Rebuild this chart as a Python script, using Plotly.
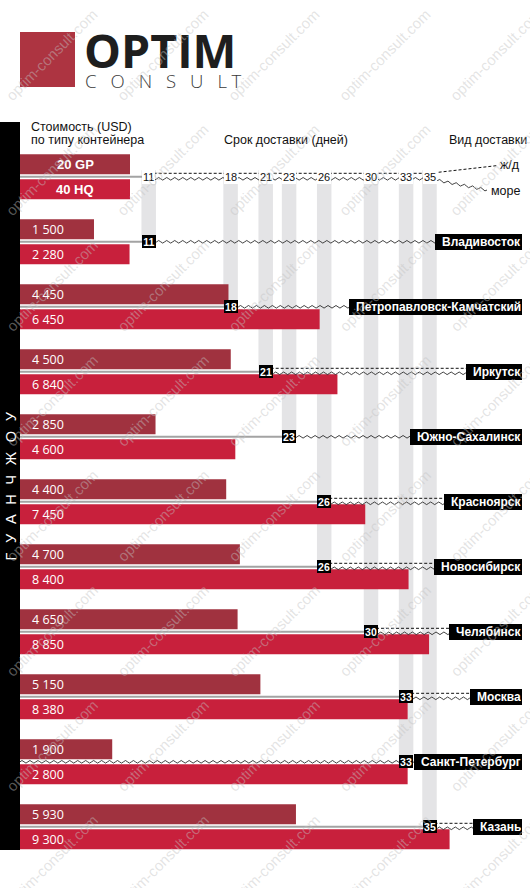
import plotly.graph_objects as go

# ------------------------------------------------------------------ data
cities = ["Владивосток", "Петропавловск-Камчатский", "Иркутск", "Южно-Сахалинск",
          "Красноярск", "Новосибирск", "Челябинск", "Москва", "Санкт-Петербург", "Казань"]
gp20_usd = [1500, 4450, 4500, 2850, 4400, 4700, 4650, 5150, 1900, 5930]
hq40_usd = [2280, 6450, 6840, 4600, 7450, 8400, 8850, 8380, 2800, 9300]
# bar lengths as drawn in the reference (the St. Petersburg 40 HQ bar is drawn
# as long as Moscow's although it is labelled 2 800)
hq40_bar_usd = [2280, 6450, 6840, 4600, 7450, 8400, 8850, 8380, 8380, 9300]
days = [11, 18, 21, 23, 26, 26, 30, 33, 33, 35]
rail = [False, False, True, False, True, True, True, True, False, True]
sea_from_origin = [False, False, False, False, False, False, False, False, True, False]
origin_city = "ГУАНЧЖОУ"
container_types = ["20 GP", "40 HQ"]
mode_labels = ["ж/д", "море"]

# ------------------------------------------------------------------ geometry / style
W, H = 530, 888
ROW0_PX, ROW_PX = 176.8, 65.0      # header row centre, row pitch
DAY0_PX, DAY_PX = 20.0, 11.7       # day-axis origin and px per day
USD0_PX, USD_PX = 25.6, 0.04559    # usd-axis origin and px per USD
BAR_LEFT_PX = 20.0
BAR_H_PX, BAR_OFF_PX = 20.0, 12.5
BAND_W_PX = 14.5
WAVE_HALF_PX, WAVE_CTRL_PX = 4.0, 2.6
END_PX = 505.0

C_GP = "#A0323F"
C_HQ = "#C8203C"
C_LOGO = "#AD3441"
C_BAND = "#E4E4E6"
C_LINE = "#A3A3A3"
C_WAVE = "#2A2A2A"
SANS = "Liberation Sans, Arial, sans-serif"
OPEN = "Open Sans, sans-serif"


def r(px):
    return px / ROW_PX


def dd(px):
    return px / DAY_PX


def py(px):  # pixel y -> paper y
    return 1 - px / H


def pxx(px):  # pixel x -> paper x
    return px / W


rows = list(range(1, len(cities) + 1))
bar_base = (BAR_LEFT_PX - USD0_PX) / USD_PX
end_day = (END_PX - DAY0_PX) / DAY_PX

fig = go.Figure()

fig.add_trace(go.Bar(
    y=[k - r(BAR_OFF_PX) for k in rows], x=[v - bar_base for v in gp20_usd], base=bar_base,
    orientation="h", width=r(BAR_H_PX), marker=dict(color=C_GP, line=dict(width=0)),
    hoverinfo="skip", xaxis="x", yaxis="y"))
fig.add_trace(go.Bar(
    y=[k + r(BAR_OFF_PX) for k in rows], x=[v - bar_base for v in hq40_bar_usd], base=bar_base,
    orientation="h", width=r(BAR_H_PX), marker=dict(color=C_HQ, line=dict(width=0)),
    hoverinfo="skip", xaxis="x", yaxis="y"))

shapes = []
ann = []


def wave_path(x0, y0, x1, y1):
    span_px = (x1 - x0) * DAY_PX
    n = max(2, int(round(span_px / WAVE_HALF_PX)))
    xs = [x0 + (x1 - x0) * i / n for i in range(n + 1)]
    ys = [y0 + (y1 - y0) * i / n for i in range(n + 1)]
    a = r(WAVE_CTRL_PX)
    cx = (xs[0] + xs[1]) / 2
    cy = (ys[0] + ys[1]) / 2 - a
    p = f"M {xs[0]:.4f},{ys[0]:.4f} Q {cx:.4f},{cy:.4f} {xs[1]:.4f},{ys[1]:.4f}"
    for i in range(2, n + 1):
        p += f" T {xs[i]:.4f},{ys[i]:.4f}"
    return p


def add_wave(x0, y0, x1, y1):
    shapes.append(dict(type="path", xref="x2", yref="y", path=wave_path(x0, y0, x1, y1),
                       line=dict(color=C_WAVE, width=0.9), layer="above"))


def add_dash(pts):
    p = "M " + " L ".join(f"{x:.4f},{y:.4f}" for x, y in pts)
    shapes.append(dict(type="path", xref="x2", yref="y", path=p,
                       line=dict(color="#111111", width=1, dash="3px,2px"), layer="above"))


# logo square
shapes.append(dict(type="rect", xref="paper", yref="paper", x0=pxx(20), x1=pxx(75),
                   y0=py(87), y1=py(32), fillcolor=C_LOGO, line=dict(width=0), layer="below"))
# black origin strip
shapes.append(dict(type="rect", xref="paper", yref="paper", x0=0, x1=pxx(20),
                   y0=py(850), y1=py(122), fillcolor="black", line=dict(width=0), layer="below"))

# delivery-day bands
uniq_days = sorted(set(days))
for d in uniq_days:
    last = max(k for k, dk in zip(rows, days) if dk == d)
    shapes.append(dict(type="rect", xref="x2", yref="y", x0=d - dd(BAND_W_PX / 2),
                       x1=d + dd(BAND_W_PX / 2), y0=-r(6.5), y1=last,
                       fillcolor=C_BAND, line=dict(width=0), layer="below"))

# header (legend) row
d_min, d_max = min(uniq_days), max(uniq_days)
shapes.append(dict(type="line", xref="x2", yref="y", x0=0, x1=d_min, y0=0, y1=0,
                   line=dict(color=C_LINE, width=2), layer="above"))
for i, (name, col) in enumerate(zip(container_types, [C_GP, C_HQ])):
    sgn = -1 if i == 0 else 1
    shapes.append(dict(type="rect", xref="paper", yref="y", x0=pxx(20), x1=pxx(130),
                       y0=sgn * r(BAR_OFF_PX - BAR_H_PX / 2), y1=sgn * r(BAR_OFF_PX + BAR_H_PX / 2),
                       fillcolor=col, line=dict(width=0), layer="above"))
    ann.append(dict(xref="paper", yref="y", x=pxx(75), y=sgn * r(BAR_OFF_PX), text=name,
                    showarrow=False, xanchor="center", yanchor="middle",
                    font=dict(family=SANS, size=13, color="white", weight="bold")))

rail_end = ((498 - DAY0_PX) / DAY_PX, r(165.5 - ROW0_PX))
sea_end = ((487 - DAY0_PX) / DAY_PX, r(190 - ROW0_PX))
add_dash([(d_min, -r(3.5)), (d_max, -r(3.5)), rail_end])
add_wave(d_min, r(2), d_max, r(2))
add_wave(d_max, r(2), sea_end[0], sea_end[1])
for d in uniq_days:
    ann.append(dict(xref="x2", yref="y", x=d, y=0, text=str(d), showarrow=False,
                    xanchor="center", yanchor="middle", bgcolor="white", borderpad=1, borderwidth=0,
                    font=dict(family=SANS, size=11, color="#111111")))
ann.append(dict(xref="paper", yref="paper", x=pxx(498), y=py(165.5), text=mode_labels[0],
                showarrow=False, xanchor="left", yanchor="middle",
                font=dict(family=SANS, size=12.5, color="#111111")))
ann.append(dict(xref="paper", yref="paper", x=pxx(489), y=py(191), text=mode_labels[1],
                showarrow=False, xanchor="left", yanchor="middle",
                font=dict(family=SANS, size=12.5, color="#111111")))

# route rows
for k, city, d, is_rail, lead_wave, gp, hq in zip(rows, cities, days, rail, sea_from_origin,
                                                   gp20_usd, hq40_usd):
    if lead_wave:
        add_wave(0, k, d, k)
    else:
        shapes.append(dict(type="line", xref="x2", yref="y", x0=0, x1=d, y0=k, y1=k,
                           line=dict(color=C_LINE, width=2), layer="above"))
    if is_rail:
        add_dash([(d, k - r(3.5)), (end_day, k - r(3.5))])
        add_wave(d, k + r(1.5), end_day, k + r(1.5))
    else:
        add_wave(d, k, end_day, k)
    # day marker
    ann.append(dict(xref="x2", yref="y", x=d, y=k, text=str(d), showarrow=False,
                    xanchor="center", yanchor="middle", bgcolor="black", width=14, height=13,
                    borderpad=0, borderwidth=0,
                    font=dict(family=SANS, size=10.5, color="white", weight="bold")))
    # city label
    ann.append(dict(xref="paper", yref="y", x=pxx(522), y=k, text="\u2002" + city,
                    showarrow=False, xanchor="right", yanchor="middle", bgcolor="black",
                    height=14, borderpad=1, borderwidth=0,
                    font=dict(family=SANS, size=12, color="white", weight="bold")))
    # cost labels
    for v, off in ((gp, -r(BAR_OFF_PX)), (hq, r(BAR_OFF_PX))):
        ann.append(dict(xref="paper", yref="y", x=pxx(30), y=k + off,
                        text=f"{v:,}".replace(",", " "), showarrow=False,
                        xanchor="left", yanchor="middle",
                        font=dict(family=OPEN, size=12.5, color="white")))

# titles
ann += [
    dict(xref="paper", yref="paper", x=pxx(29), y=py(127), text="Стоимость (USD)",
         showarrow=False, xanchor="left", yanchor="middle",
         font=dict(family=SANS, size=12.5, color="#111111")),
    dict(xref="paper", yref="paper", x=pxx(29), y=py(140.5), text="по типу контейнера",
         showarrow=False, xanchor="left", yanchor="middle",
         font=dict(family=SANS, size=12.5, color="#111111")),
    dict(xref="paper", yref="paper", x=pxx(285.7), y=py(139.5), text="Срок доставки (дней)",
         showarrow=False, xanchor="center", yanchor="middle",
         font=dict(family=SANS, size=12.5, color="#111111")),
    dict(xref="paper", yref="paper", x=pxx(529), y=py(139.5), text="Вид доставки",
         showarrow=False, xanchor="right", yanchor="middle",
         font=dict(family=SANS, size=12.5, color="#111111")),
    dict(xref="paper", yref="paper", x=pxx(10.5), y=py(486),
         text="\u2002\u2006".join(origin_city), textangle=-90, showarrow=False,
         xanchor="center", yanchor="middle",
         font=dict(family=SANS, size=14.5, color="white")),
    dict(xref="paper", yref="paper", x=pxx(82), y=py(50), text="OPTIM", showarrow=False,
         xanchor="left", yanchor="middle",
         font=dict(family=OPEN, size=46.5, color="#1E1E1E", weight="bold")),
    dict(xref="paper", yref="paper", x=pxx(83), y=py(80.7),
         text="C\u2002\u2005O\u2002\u2005N\u2002\u2005S\u2002\u2005U\u2002\u2005L\u2005T",
         showarrow=False, xanchor="left", yanchor="middle",
         font=dict(family=OPEN, size=18.6, color="#3A3A3A", weight=300)),
]

# watermark
for i in range(8):
    for j in range(5):
        ann.append(dict(xref="paper", yref="paper", x=pxx(52 + 111 * j), y=py(55 + 115 * i),
                        text="optim-consult.com", textangle=-45, showarrow=False,
                        xanchor="center", yanchor="middle",
                        font=dict(family=SANS, size=15, color="rgba(195,195,195,0.45)")))

fig.update_layout(
    width=W, height=H, margin=dict(l=0, r=0, t=0, b=0),
    paper_bgcolor="white", plot_bgcolor="white",
    showlegend=False, hovermode=False, barmode="overlay",
    xaxis=dict(domain=[0, 1], range=[-USD0_PX / USD_PX, (W - USD0_PX) / USD_PX],
               visible=False, fixedrange=True),
    xaxis2=dict(domain=[0, 1], range=[-DAY0_PX / DAY_PX, (W - DAY0_PX) / DAY_PX],
                overlaying="x", visible=False, fixedrange=True),
    yaxis=dict(domain=[0, 1], range=[(H - ROW0_PX) / ROW_PX, -ROW0_PX / ROW_PX],
               visible=False, fixedrange=True),
    shapes=shapes, annotations=ann,
)

fig.write_html("out.html", config={"displayModeBar": False},
               post_script="document.body.style.margin='0px';document.body.style.overflow='hidden';")
